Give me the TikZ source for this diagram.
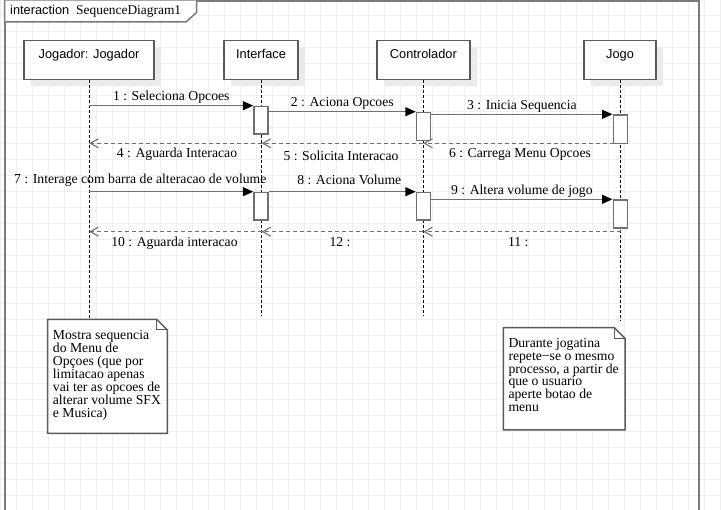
\documentclass[tikz,border=0pt]{standalone}
\usepackage{fontspec}
\setmainfont{Liberation Serif}
\newfontfamily\headfont{Liberation Sans}
\usetikzlibrary{arrows.meta,shadows}

\definecolor{gridc}{HTML}{EFEFEF}
\definecolor{linec}{HTML}{707070}
\definecolor{boxc}{HTML}{5A5A5A}
\definecolor{framec}{HTML}{7A7A7A}
\definecolor{shadowc}{HTML}{EBEBEB}

\tikzset{
  head/.style={draw=boxc, line width=1.5pt, fill=white, inner xsep=0pt, inner ysep=0pt,
    text height=17.3pt, text depth=21.7pt, anchor=north west,
    font=\headfont\fontsize{12.8}{14}\selectfont,
    drop shadow={shadow xshift=7pt, shadow yshift=-6pt, fill=shadowc, opacity=1}},
  lifeline/.style={draw=black, line width=1pt, dash pattern=on 3pt off 2pt},
  act/.style={draw=linec, line width=1.5pt, fill=white, minimum width=14pt,
    inner sep=0pt, anchor=north west},
  call/.style={draw=linec, line width=1.5pt, -{Triangle[length=10.5pt,width=9pt,color=black]}},
  ret/.style={draw=linec, line width=1.2pt, dash pattern=on 4pt off 3pt,
    -{Straight Barb[length=8pt,width=9pt,line width=1.1pt]}},
  lbl/.style={font=\fontsize{13.7}{15}\selectfont, inner sep=0pt, anchor=base, midway},
  up/.style={lbl, yshift=5pt},
  down/.style={lbl, yshift=-14.4pt},
  notebox/.style={draw=boxc, line width=1.5pt, fill=white},
  notetext/.style={font=\fontsize{13.7}{12.9}\selectfont, inner sep=0pt, align=left, anchor=north west},
}

\begin{document}
\begin{tikzpicture}[x=1pt, y=-1pt]
\useasboundingbox (0,0) rectangle (721,510);
\fill[white] (0,0) rectangle (721,510);

% background grid
\foreach \gx in {0,16,...,720} \draw[gridc, line width=1pt] (\gx,0) -- (\gx,510);
\foreach \gy in {0,16,...,508} \draw[gridc, line width=1pt] (0,\gy) -- (721,\gy);

% interaction frame and its name tab
\draw[framec, line width=2pt] (4.7,512) -- (4.7,0.7) -- (698.7,0.7) -- (698.7,512);
\draw[framec, line width=1.5pt, fill=white] (4.7,0.7) -- (4.7,22) -- (186,22) -- (196.5,12.5) -- (196.5,0.7);
\node[anchor=base west, inner sep=0pt, font=\headfont\fontsize{12.8}{14}\selectfont] (kw) at (10,15) {interaction};
\node[anchor=base west, inner sep=0pt, font=\fontsize{13.4}{15}\selectfont] (fname) at (76,15) {SequenceDiagram1};

% lifeline heads
\node[head, minimum width=130pt] (jog) at (23.3,40) {Jogador: Jogador};
\node[head, minimum width=74pt] (int) at (223.3,40) {Interface};
\node[head, minimum width=93.3pt] (ctl) at (376,40) {Controlador};
\node[head, minimum width=72pt] (game) at (583.3,40) {Jogo};

% lifeline ends
\coordinate (jog-end) at (89.3,319);
\coordinate (int-end) at (261.7,316);
\coordinate (ctl-end) at (423.3,316);
\coordinate (game-end) at (620.7,321);

\draw[lifeline] (jog-end |- jog.south) -- (jog-end);
\draw[lifeline] (int-end |- int.south) -- (int-end);
\draw[lifeline] (ctl-end |- ctl.south) -- (ctl-end);
\draw[lifeline] (game-end |- game.south) -- (game-end);

% activations
\node[act, minimum height=27.6pt] (ia1) at (253.3,105.7) {};
\node[act, minimum height=28pt] (ca1) at (415.8,111.7) {};
\node[act, minimum height=28.4pt] (ja1) at (612.5,114.3) {};
\node[act, minimum height=27.6pt] (ia2) at (253.3,191.7) {};
\node[act, minimum height=27.6pt] (ca2) at (415.8,191.7) {};
\node[act, minimum height=28pt] (ja2) at (612.5,199.3) {};

% return levels
\coordinate (ry1) at (0,143.3);
\coordinate (ry2) at (0,231.7);

% first exchange
\draw[call] (jog-end |- ia1.north) -- node[up] {1 : Seleciona Opcoes} (ia1.north west);
\draw[call] (ia1.east |- ca1.north) -- node[up] {2 : Aciona Opcoes} (ca1.north west);
\draw[call] (ca1.east |- ja1.north) -- node[up] {3 : Inicia Sequencia} (ja1.north west);
\draw[ret] (int-end |- ry1) -- node[down, xshift=1.5pt] {4 : Aguarda Interacao} (jog-end |- ry1);
\draw[ret] (ctl-end |- ry1) -- node[down, yshift=-3.3pt, xshift=-1.5pt] {5 : Solicita Interacao} (int-end |- ry1);
\draw[ret] (game-end |- ry1) -- node[down, xshift=-2pt] {6 : Carrega Menu Opcoes} (ctl-end |- ry1);

% second exchange
\draw[call] (jog-end |- ia2.north) -- node[up, yshift=3pt, xshift=-31pt] {7 : Interage com barra de alteracao de volume} (ia2.north west);
\draw[call] (ia2.north east) -- node[up, yshift=1.7pt, xshift=7pt] {8 : Aciona Volume} (ca2.north west);
\draw[call] (ca2.east |- ja2.north) -- node[up] {9 : Altera volume de jogo} (ja2.north west);
\draw[ret] (int-end |- ry2) -- node[down, xshift=-1pt] {10 : Aguarda interacao} (jog-end |- ry2);
\draw[ret] (ctl-end |- ry2) -- node[down, xshift=-2.5pt] {12 :} (int-end |- ry2);
\draw[ret] (game-end |- ry2) -- node[down, xshift=-3.7pt] {11 :} (ctl-end |- ry2);

% notes
\draw[notebox] (47.7,319.3) -- (156.7,319.3) -- (167.3,330) -- (167.3,433.3) -- (47.7,433.3) -- cycle;
\draw[boxc, line width=1pt] (156.7,319.3) -- (156.7,330) -- (167.3,330);
\node[notetext] (note1) at (52.7,330.5) {Mostra sequencia\\do Menu de\\Opçoes (que por\\limitacao apenas\\vai ter as opcoes de\\alterar volume SFX\\e Musica)};

\draw[notebox] (503.3,327.7) -- (614.3,327.7) -- (625,338.4) -- (625,430) -- (503.3,430) -- cycle;
\draw[boxc, line width=1pt] (614.3,327.7) -- (614.3,338.4) -- (625,338.4);
\node[notetext] (note2) at (508.3,338) {Durante jogatina\\repete−se o mesmo\\processo, a partir de\\que o usuario\\aperte botao de\\menu};
\end{tikzpicture}
\end{document}
